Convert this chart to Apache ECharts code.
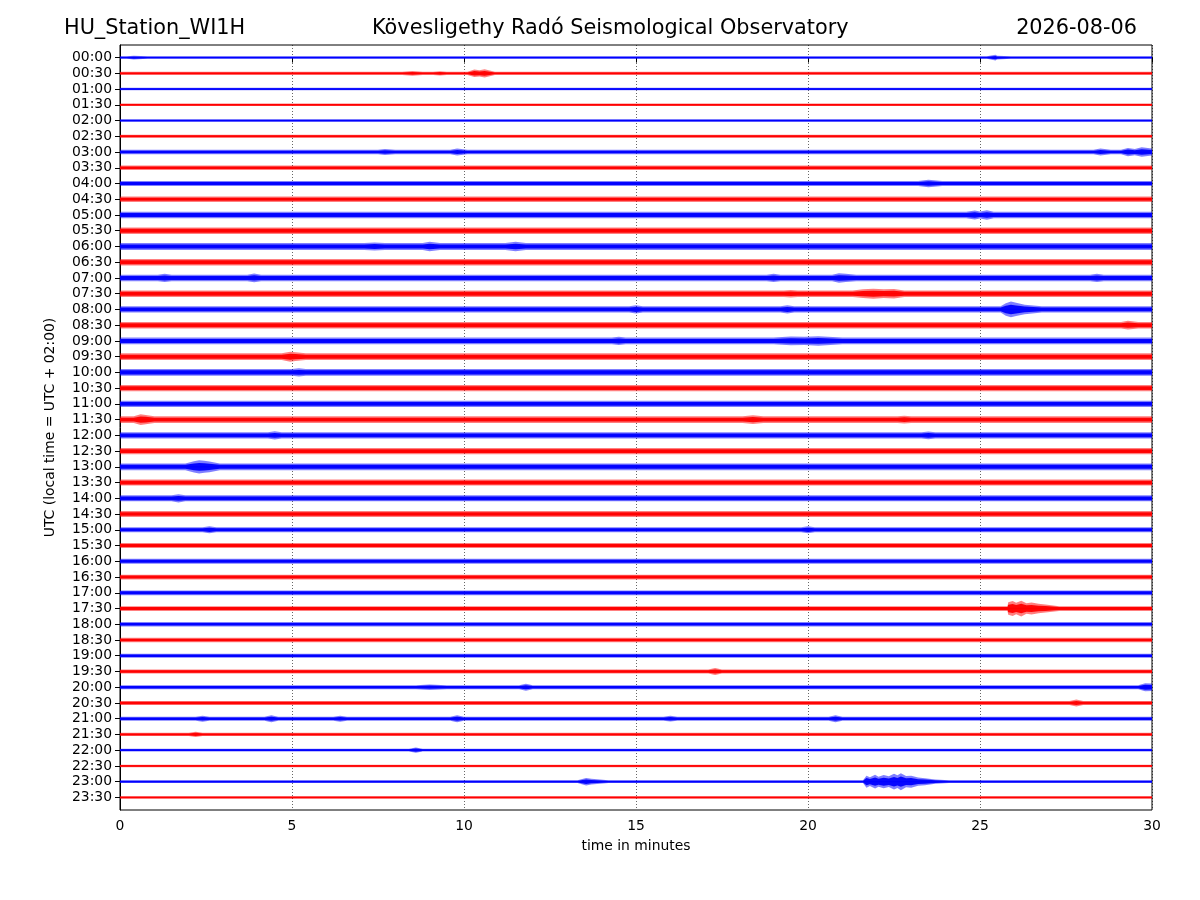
<!DOCTYPE html>
<html lang="en">
<head>
    <meta charset="UTF-8">
    <title>HU_Station_WI1H helicorder</title>
    <script src="https://cdn.jsdelivr.net/npm/echarts@6/dist/echarts.min.js"></script>
    <style>
        html, body { margin: 0; padding: 0; background: #fff; }
        #container { width: 1200px; height: 900px; }
    </style>
</head>
<body>

<div id="container"></div>
<script type="text/javascript">
    // one trace per half hour, 00:00 on top
    var traceLabels = ['00:00','00:30','01:00','01:30','02:00','02:30','03:00','03:30',
        '04:00','04:30','05:00','05:30','06:00','06:30','07:00','07:30',
        '08:00','08:30','09:00','09:30','10:00','10:30','11:00','11:30',
        '12:00','12:30','13:00','13:30','14:00','14:30','15:00','15:30',
        '16:00','16:30','17:00','17:30','18:00','18:30','19:00','19:30',
        '20:00','20:30','21:00','21:30','22:00','22:30','23:00','23:30'];

    // background noise half-amplitude of each trace (1/100 of trace spacing)
    var noiseLevel = [8, 10, 8, 8, 8, 10, 14, 14,
        16, 17, 21, 20, 22, 21, 21, 21,
        20, 21, 21, 21, 22, 20, 20, 21,
        20, 20, 21, 19, 19, 19, 16, 16,
        16, 15, 15, 15, 14, 14, 13, 13,
        13, 13, 13, 10, 9, 8, 9, 8];

    // bursts: [trace, times (min), half-amplitudes]; 0 = back to the noise level
    var events = [
        [0, [0.2, 0.4, 0.8], [0, 12, 0]],
        [0, [25.2, 25.45, 25.5, 25.9], [0, 18, 12, 0]],
        [1, [8.2, 8.5, 8.8], [0, 15, 0]],
        [1, [9.1, 9.3, 9.5], [0, 14, 0]],
        [1, [10.1, 10.3, 10.45, 10.6, 10.9], [0, 24, 20, 26, 0]],
        [6, [7.5, 7.7, 8.0], [0, 19, 0]],
        [6, [9.6, 9.8, 10.1], [0, 22, 0]],
        [6, [28.3, 28.5, 28.8], [0, 22, 0]],
        [6, [29.1, 29.3, 29.5, 29.7, 30.0], [0, 26, 20, 30, 22]],
        [8, [23.2, 23.5, 23.9], [0, 24, 0]],
        [10, [24.6, 24.85, 25.0, 25.2, 25.4], [0, 28, 22, 30, 0]],
        [12, [7.1, 7.4, 7.7], [0, 26, 0]],
        [12, [8.8, 9.0, 9.3], [0, 30, 0]],
        [12, [11.2, 11.5, 11.8], [0, 30, 0]],
        [14, [1.1, 1.3, 1.5], [0, 26, 0]],
        [14, [3.7, 3.9, 4.1], [0, 28, 0]],
        [14, [18.8, 19.0, 19.2], [0, 26, 0]],
        [14, [20.7, 20.9, 21.1, 21.4], [0, 30, 26, 0]],
        [14, [28.2, 28.4, 28.6], [0, 26, 0]],
        [15, [19.3, 19.5, 19.7], [0, 24, 0]],
        [15, [21.3, 21.6, 21.9, 22.2, 22.5, 22.8], [0, 28, 32, 28, 30, 0]],
        [16, [14.8, 15.0, 15.2], [0, 26, 0]],
        [16, [19.2, 19.4, 19.6], [0, 26, 0]],
        [16, [25.6, 25.75, 25.9, 26.05, 26.3, 26.8], [0, 40, 50, 42, 30, 0]],
        [17, [29.1, 29.3, 29.6], [0, 28, 0]],
        [18, [14.3, 14.5, 14.7], [0, 26, 0]],
        [18, [19.0, 19.5, 19.9, 20.3, 21.0], [0, 28, 26, 30, 0]],
        [19, [4.7, 4.95, 5.1, 5.4], [0, 32, 28, 0]],
        [20, [5.0, 5.2, 5.4], [0, 26, 0]],
        [23, [0.4, 0.6, 0.75, 1.0], [0, 34, 30, 0]],
        [23, [18.1, 18.4, 18.7], [0, 28, 0]],
        [23, [22.6, 22.8, 23.0], [0, 24, 0]],
        [24, [4.3, 4.5, 4.7], [0, 26, 0]],
        [24, [23.3, 23.5, 23.7], [0, 24, 0]],
        [26, [1.9, 2.15, 2.3, 2.45, 2.6, 2.9], [0, 36, 42, 38, 34, 0]],
        [28, [1.5, 1.7, 1.9], [0, 26, 0]],
        [30, [2.4, 2.6, 2.8], [0, 22, 0]],
        [30, [19.8, 20.0, 20.2], [0, 22, 0]],
        [35, [25.8, 25.82, 25.95, 26.05, 26.2, 26.35, 26.5, 26.7, 26.9, 27.3],
             [0, 40, 48, 36, 50, 34, 38, 30, 26, 0]],
        [39, [17.1, 17.3, 17.5], [0, 22, 0]],
        [40, [8.6, 9.0, 9.5], [0, 17, 0]],
        [40, [11.6, 11.8, 12.0], [0, 22, 0]],
        [40, [29.6, 29.8, 30.0], [0, 26, 24]],
        [41, [27.6, 27.8, 28.0], [0, 22, 0]],
        [42, [2.2, 2.4, 2.6], [0, 19, 0]],
        [42, [4.2, 4.4, 4.6], [0, 22, 0]],
        [42, [6.2, 6.4, 6.6], [0, 19, 0]],
        [42, [9.6, 9.8, 10.0], [0, 22, 0]],
        [42, [15.8, 16.0, 16.2], [0, 18, 0]],
        [42, [20.6, 20.8, 21.0], [0, 22, 0]],
        [43, [2.0, 2.2, 2.4], [0, 17, 0]],
        [44, [8.4, 8.6, 8.8], [0, 17, 0]],
        [46, [13.3, 13.55, 13.7, 14.2], [0, 24, 18, 0]],
        [46, [21.6, 21.7, 21.8, 21.95, 22.05, 22.2, 22.35, 22.5, 22.6, 22.7, 22.85, 23.0, 23.2, 23.4, 23.7, 24.1],
             [0, 38, 28, 44, 32, 42, 34, 50, 40, 54, 36, 38, 26, 22, 14, 0]]
    ];

    var xTicks = [0, 5, 10, 15, 20, 25, 30];
    var traceColors = ['#0000ff', '#ff0000'];

    var dom = document.getElementById("container");
    var myChart = echarts.init(dom);

    // upper half of a trace's envelope as [minute, half-amplitude]
    function envelope(i, base) {
        var pts = [[0, base]];
        events.filter(function (e) { return e[0] === i; })
            .sort(function (a, b) { return a[1][0] - b[1][0]; })
            .forEach(function (e) {
                e[1].forEach(function (t, k) {
                    pts.push([t, Math.max(e[2][k], base)]);
                });
            });
        if (pts[pts.length - 1][0] < 30) pts.push([30, base]);
        return pts;
    }

    function band(api, i, env, f) {
        var top = env.map(function (p) { return api.coord([p[0], i - f * p[1] / 100]); });
        var bottom = env.map(function (p) { return api.coord([p[0], i + f * p[1] / 100]); }).reverse();
        return top.concat(bottom);
    }

    function renderTrace(params, api) {
        var i = api.value(0);
        var env = envelope(i, api.value(1));
        var color = traceColors[i % 2];
        var a = api.coord([0, i]), b = api.coord([30, i]);
        return {
            type: 'group',
            children: [
                { type: 'polygon', shape: { points: band(api, i, env, 1) }, style: { fill: color, opacity: 0.5 } },
                { type: 'polygon', shape: { points: band(api, i, env, 0.6) }, style: { fill: color, opacity: 0.95 } },
                { type: 'line', shape: { x1: a[0], y1: a[1], x2: b[0], y2: b[1] }, style: { stroke: color, lineWidth: 1.3 } }
            ]
        };
    }

    var titleStyle = { fontSize: 20.8, fontWeight: 'normal', color: '#000', fontFamily: 'DejaVu Sans' };

    var option = {
        animation: false,
        backgroundColor: '#fff',
        textStyle: { fontFamily: 'DejaVu Sans' },
        title: [
            { text: 'HU_Station_WI1H', left: 64, top: 18, padding: 0, textStyle: titleStyle },
            { text: 'Kövesligethy Radó Seismological Observatory', left: 372, top: 18, padding: 0, textStyle: titleStyle },
            { text: '2026-08-06', right: 63, top: 18, padding: 0, textStyle: titleStyle }
        ],
        grid: {
            left: 120, right: 48, top: 45, bottom: 90,
            show: true, borderColor: '#000', borderWidth: 1, backgroundColor: 'transparent'
        },
        xAxis: {
            type: 'value',
            min: 0, max: 30, interval: 5,
            name: 'time in minutes',
            nameLocation: 'middle',
            nameGap: 29,
            nameTextStyle: { fontSize: 13.9, color: '#000' },
            axisLine: { show: true, lineStyle: { color: '#000', width: 1 } },
            axisTick: { show: true, inside: false, length: 5, lineStyle: { color: '#000' } },
            axisLabel: { fontSize: 13.9, color: '#000', margin: 9, customValues: xTicks },
            splitLine: { show: true, lineStyle: { color: '#000', type: [1, 2], width: 0.6 } }
        },
        yAxis: {
            type: 'value',
            inverse: true,
            min: -0.8, max: 47.8,
            name: 'UTC (local time = UTC + 02:00)',
            nameLocation: 'middle',
            nameGap: 63,
            nameRotate: 90,
            nameTextStyle: { fontSize: 13.9, color: '#000' },
            axisLine: { show: true, lineStyle: { color: '#000', width: 1 } },
            axisTick: { show: true, inside: false, length: 5, lineStyle: { color: '#000' },
                customValues: traceLabels.map(function (l, k) { return k; }) },
            axisLabel: {
                fontSize: 13.9, color: '#000', margin: 8,
                customValues: traceLabels.map(function (l, k) { return k; }),
                formatter: function (v) { return traceLabels[Math.round(v)]; }
            },
            splitLine: { show: false }
        },
        series: [{
            type: 'custom',
            renderItem: renderTrace,
            encode: { y: 0 },
            data: noiseLevel.map(function (a, k) { return [k, a]; }),
            silent: true
        }]
    };
    myChart.setOption(option);
</script>
</body>
</html>
